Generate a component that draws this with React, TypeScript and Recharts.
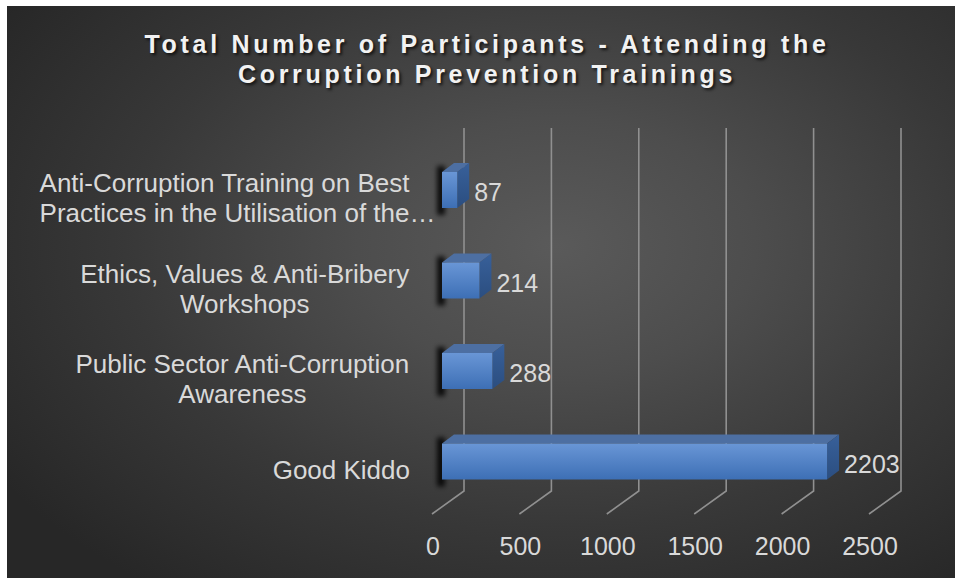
import { Bar, BarChart, CartesianGrid, LabelList, XAxis, YAxis } from "recharts";

const categories = [
  "Anti-Corruption Training on Best Practices in the Utilisation of the…",
  "Ethics, Values & Anti-Bribery Workshops",
  "Public Sector Anti-Corruption Awareness",
  "Good Kiddo",
];

// how Excel wrapped the category labels
const categoryLines = [
  ["Anti-Corruption Training on Best", "Practices in the Utilisation of the…"],
  ["Ethics, Values & Anti-Bribery", "Workshops"],
  ["Public Sector Anti-Corruption", "Awareness"],
  ["Good Kiddo"],
];

const participants = [87, 214, 288, 2203];

const xTicks = [0, 500, 1000, 1500, 2000, 2500];

const data = categories.map((name, i) => ({ name, participants: participants[i] }));

const WIDTH = 948;
const HEIGHT = 572;
const MARGIN = { top: 139, right: 76, bottom: 31, left: 0 };
const X_AXIS_HEIGHT = 40;
const PLOT_BOTTOM = HEIGHT - MARGIN.bottom - X_AXIS_HEIGHT;

// 3D depth of the bars and of the back wall
const DX = 12;
const DY = 9;

const FONT = '"Liberation Sans", Arial, sans-serif';
const TEXT = "#d9d9d9";

let measureCtx: CanvasRenderingContext2D | null = null;
function textWidth(s: string, size: number) {
  if (!measureCtx) measureCtx = document.createElement("canvas").getContext("2d");
  if (!measureCtx) return s.length * size * 0.5;
  measureCtx.font = `${size}px "Liberation Sans", Arial`;
  return measureCtx.measureText(s).width;
}

function CategoryTick({ x, y, payload }: any) {
  const idx = categories.indexOf(payload.value);
  const lines = categoryLines[idx] ?? [payload.value];
  const size = 26;
  const lineHeight = 30;
  const right = x - 24;
  const top = y + 8 - ((lines.length - 1) * lineHeight) / 2;
  const truncated = lines.some((l) => l.endsWith("…"));
  const maxW = Math.max(...lines.map((l) => textWidth(l, size)));
  const anchor = truncated ? "start" : "middle";
  const tx = truncated ? right - textWidth(lines[0], size) : right - maxW / 2;
  return (
    <text
      textAnchor={anchor}
      fill={TEXT}
      fontSize={size}
      fontFamily={FONT}
      dominantBaseline="central"
    >
      {lines.map((line, i) => (
        <tspan key={i} x={tx} y={top + i * lineHeight}>
          {line}
        </tspan>
      ))}
    </text>
  );
}

function ValueTick({ x, payload }: any) {
  return (
    <text
      x={x - 9}
      y={PLOT_BOTTOM + 39}
      textAnchor="middle"
      dominantBaseline="central"
      fill={TEXT}
      fontSize={25}
      fontFamily={FONT}
    >
      {payload.value}
    </text>
  );
}

function WallLine(props: any) {
  const { x1, y1, y2 } = props;
  const bx = x1 + 22;
  return (
    <polyline
      key={props.key}
      points={`${bx},${y1 - 17} ${bx},${y2 - 16} ${x1 - 10},${y2 + 7}`}
      fill="none"
      stroke="#909090"
      strokeWidth={1.6}
    />
  );
}

function Bar3D({ x, y, width, height }: any) {
  const r = x + width;
  const b = y + height;
  return (
    <g>
      <rect
        x={x - 5}
        y={y - DY + 3}
        width={8}
        height={height + DY + 4}
        fill="#000"
        fillOpacity={0.85}
        filter="url(#barBlur)"
      />
      <polygon
        points={`${x},${y} ${x + DX},${y - DY} ${r + DX},${y - DY} ${r},${y}`}
        fill="#4d6fa2"
      />
      <polygon
        points={`${r},${y} ${r + DX},${y - DY} ${r + DX},${b - DY} ${r},${b}`}
        fill="url(#barSide)"
      />
      <rect x={x} y={y} width={width} height={height} fill="url(#barFront)" />
    </g>
  );
}

function ValueLabel(props: any) {
  const { x, y, width, height, value } = props;
  return (
    <text
      x={x + width + DX + 5}
      y={y + height / 2 + 2}
      dominantBaseline="central"
      fill={TEXT}
      fontSize={25}
      fontFamily={FONT}
    >
      {value}
    </text>
  );
}

export default function App() {
  return (
    <div
      style={{
        position: "absolute",
        left: 7,
        top: 6,
        width: WIDTH,
        height: HEIGHT,
        background:
          "radial-gradient(ellipse 70% 75% at 58% 42%, #5a5a5a 0%, #4d4d4d 30%, #383838 65%, #272727 100%)",
      }}
    >
      <div
        style={{
          position: "absolute",
          top: 23,
          left: 0,
          width: WIDTH,
          paddingLeft: 12,
          boxSizing: "border-box",
          textAlign: "center",
          fontFamily: FONT,
          fontWeight: "bold",
          fontSize: 25,
          lineHeight: "30px",
          letterSpacing: 3.7,
          color: "#f2f2f2",
          textShadow: "2px 2px 3px rgba(0,0,0,0.7)",
        }}
      >
        Total Number of Participants - Attending the
        <br />
        Corruption Prevention Trainings
      </div>
      <BarChart
        width={WIDTH}
        height={HEIGHT}
        data={data}
        layout="vertical"
        margin={MARGIN}
        barSize={36}
      >
        <defs>
          <linearGradient id="barFront" x1="0" y1="0" x2="0" y2="1">
            <stop offset="0%" stopColor="#6996d6" />
            <stop offset="100%" stopColor="#3d6fb5" />
          </linearGradient>
          <linearGradient id="barSide" x1="0" y1="0" x2="0" y2="1">
            <stop offset="0%" stopColor="#38609a" />
            <stop offset="100%" stopColor="#2b4e80" />
          </linearGradient>
          <filter id="barBlur" x="-200%" y="-50%" width="500%" height="200%">
            <feGaussianBlur stdDeviation="2.5" />
          </filter>
        </defs>
        <CartesianGrid horizontal={false} vertical={WallLine} />
        <XAxis
          type="number"
          domain={[0, 2500]}
          ticks={xTicks}
          height={X_AXIS_HEIGHT}
          axisLine={false}
          tickLine={false}
          tick={ValueTick}
          interval={0}
        />
        <YAxis
          type="category"
          dataKey="name"
          width={435}
          axisLine={false}
          tickLine={false}
          tick={CategoryTick}
          interval={0}
        />
        <Bar dataKey="participants" shape={Bar3D} isAnimationActive={false}>
          <LabelList dataKey="participants" content={ValueLabel} />
        </Bar>
      </BarChart>
    </div>
  );
}
